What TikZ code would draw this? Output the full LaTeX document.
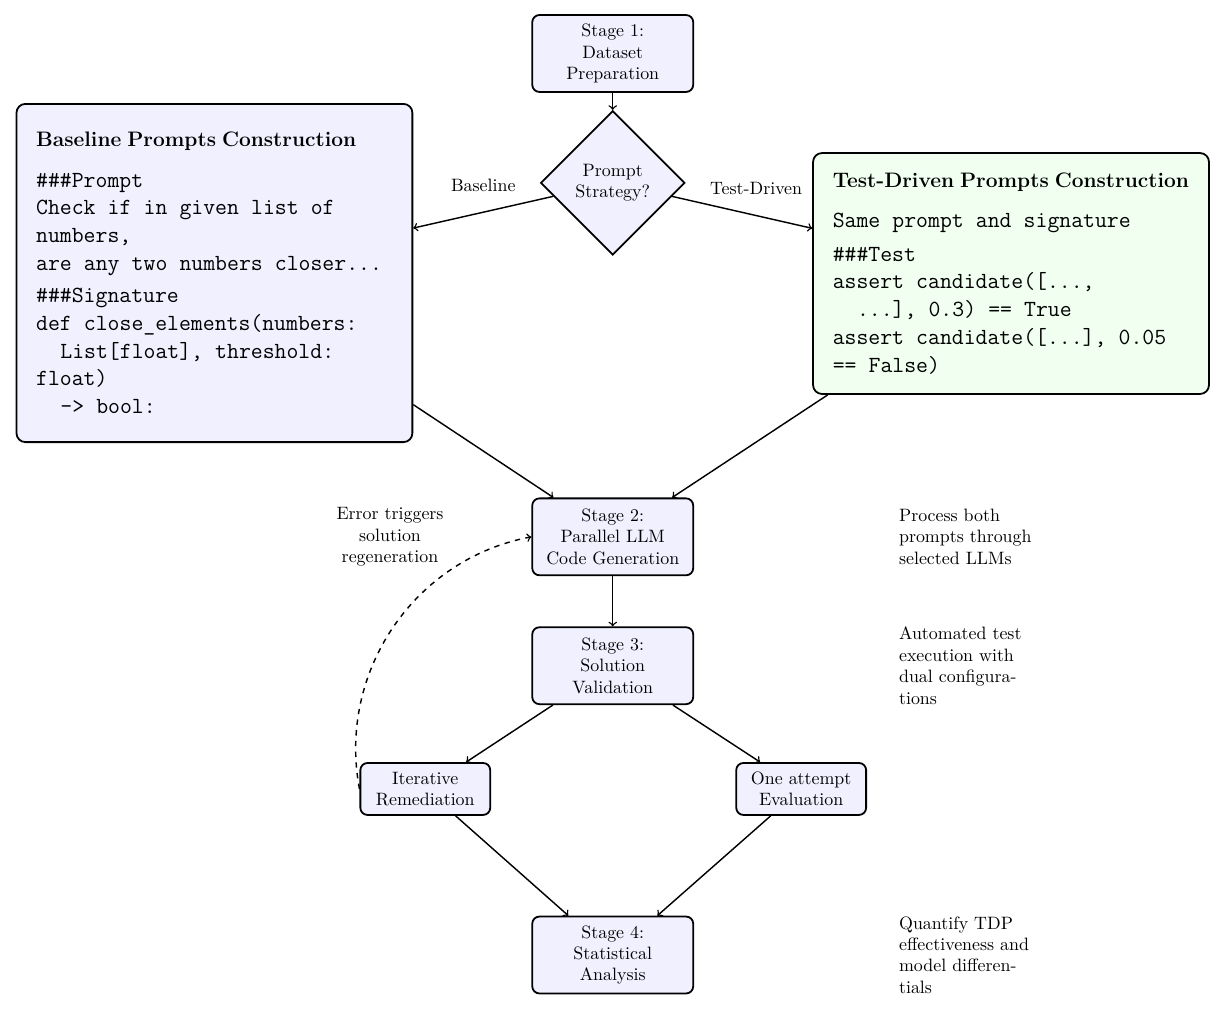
\documentclass[tikz,border=0pt]{standalone}
\usetikzlibrary{shapes.geometric,positioning}
\newcommand\codefont{\fontsize{12.9}{15.5}\selectfont\ttfamily
  \spaceskip=0.525em\relax \xspaceskip=0.525em\relax}
\newcommand\headfont{\fontsize{11.7}{14}\selectfont\bfseries}
\begin{document}
\begin{tikzpicture}[
  stagebox/.style={draw, line width=1pt, rounded corners, fill=blue!6, minimum width=3.16cm, minimum height=1.51cm, align=center},
  subbox/.style={draw, line width=1pt, rounded corners, fill=blue!6, minimum width=2.55cm, minimum height=1.02cm, align=center, inner sep=2pt},
  bigbox/.style={draw, line width=1pt, rounded corners=5pt, text width=7.0cm, inner xsep=11pt, align=left},
  decision/.style={draw, line width=1pt, diamond, fill=blue!6, minimum width=2.83cm, minimum height=2.83cm, align=center, inner sep=0pt},
  note/.style={text width=2.8cm, align=left},
  arr/.style={->, thick}
]
\useasboundingbox (0,0) rectangle (24.11,-19.95);
\node[stagebox] (s1) at (12.03,-1.05) {Stage 1:\\Dataset\\Preparation};
\node[decision] (strategy) at (12.03,-3.59) {Prompt\\Strategy?};
\node[bigbox, fill=blue!6, minimum height=6.64cm] (base) at (4.21,-5.36) {%
  {\headfont Baseline Prompts Construction\par}\vspace{7pt}
  {\codefont \#\#\#Prompt\\Check if in given list of\\numbers,\\are any two numbers closer...\par
  \vspace{2.5pt}\#\#\#Signature\\def close\_elements(numbers:\\\ \ List[float], threshold:\\float)\\\ \ -> bool:\par}};
\node[bigbox, fill=green!6, minimum height=4.73cm] (tdp) at (19.85,-5.37) {%
  {\headfont Test-Driven Prompts Construction\par}\vspace{7pt}
  {\codefont Same prompt and signature\par
  \vspace{3pt}\#\#\#Test\\assert candidate([...,\\\ \ ...], 0.3) == True\\assert candidate([...], 0.05\\== False)\par}};
\node[stagebox] (s2) at (12.03,-10.54) {Stage 2:\\Parallel LLM\\Code Generation};
\node[stagebox] (s3) at (12.03,-13.07) {Stage 3:\\Solution\\Validation};
\node[subbox] (iter) at (8.35,-15.49) {Iterative\\Remediation};
\node[subbox] (once) at (15.73,-15.49) {One attempt\\Evaluation};
\node[stagebox] (s4) at (12.03,-18.75) {Stage 4:\\Statistical\\Analysis};

\node[note, right=3.9cm of s2] (n2) {Process both prompts through selected LLMs};
\node[note, right=3.9cm of s3] (n3) {Automated test execution with dual configurations};
\node[note, right=3.9cm of s4] (n4) {Quantify TDP effectiveness and model differentials};
\node[align=center, left=1.6cm of s2] (err) {Error triggers\\solution\\regeneration};

\draw[arr] (s1) -- (strategy);
\draw[arr] (strategy) -- node[above=8pt] {Baseline} (base);
\draw[arr] (strategy) -- node[above=8pt, pos=0.6] {Test-Driven} (tdp);
\draw[arr] (base) -- (s2);
\draw[arr] (tdp) -- (s2);
\draw[arr] (s2) -- (s3);
\draw[arr] (s3) -- (iter);
\draw[arr] (s3) -- (once);
\draw[arr] (iter) -- (s4);
\draw[arr] (once) -- (s4);
\draw[arr, dashed] (iter.west) to[bend left=45] (s2.west);
\end{tikzpicture}
\end{document}
